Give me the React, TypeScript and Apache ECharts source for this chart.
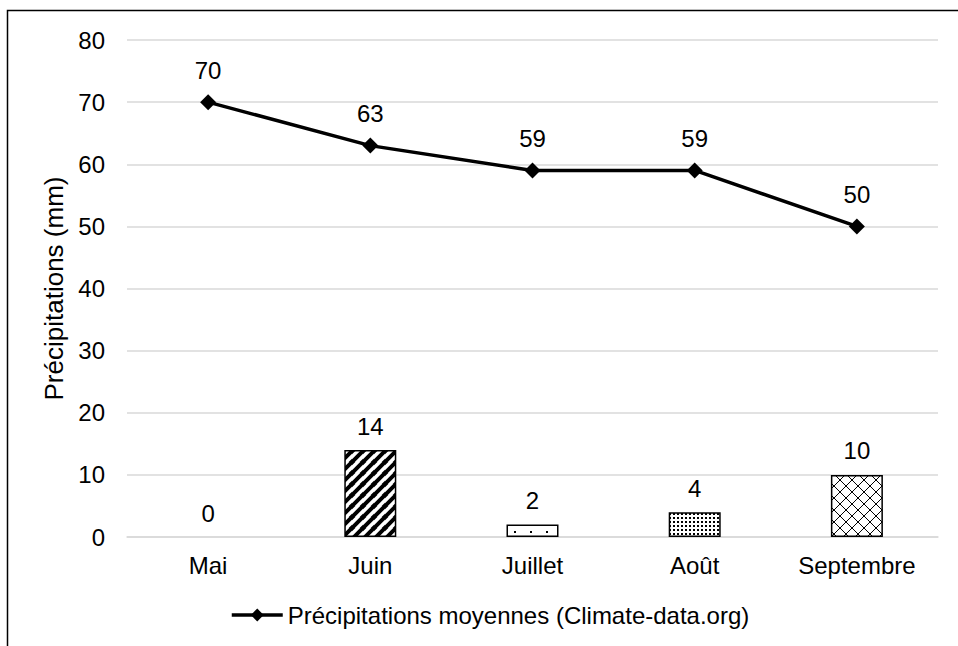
import React, { useEffect, useRef } from "react";
import * as echarts from "echarts";

const categories = ["Mai", "Juin", "Juillet", "Août", "Septembre"];
const lineValues = [70, 63, 59, 59, 50];
const barValues = [0, 14, 2, 4, 10];
const yTicks = { min: 0, max: 80, interval: 10 };
const lineName = "Précipitations moyennes (Climate-data.org)";
const barName = "Précipitations observées";
const yName = "Précipitations (mm)";

function makeCanvas(size: number, draw: (ctx: CanvasRenderingContext2D) => void) {
  const c = document.createElement("canvas");
  c.width = size;
  c.height = size;
  const ctx = c.getContext("2d")!;
  ctx.fillStyle = "#ffffff";
  ctx.fillRect(0, 0, size, size);
  ctx.fillStyle = "#000000";
  ctx.strokeStyle = "#000000";
  draw(ctx);
  return c;
}

function patterns() {
  const stripes = makeCanvas(11, (ctx) => {
    ctx.lineWidth = 4;
    ctx.beginPath();
    ctx.moveTo(-5, 16);
    ctx.lineTo(16, -5);
    ctx.moveTo(-5, 5.5);
    ctx.lineTo(5.5, -5);
    ctx.moveTo(5.5, 16);
    ctx.lineTo(16, 5.5);
    ctx.stroke();
  });
  const sparse = makeCanvas(16, (ctx) => {
    ctx.fillRect(2, 3, 2, 2);
    ctx.fillRect(10, 11, 2, 2);
  });
  const dense = makeCanvas(4, (ctx) => {
    ctx.fillRect(1, 1, 2, 2);
  });
  const cross = makeCanvas(12, (ctx) => {
    ctx.lineWidth = 1;
    ctx.beginPath();
    ctx.moveTo(0, 0);
    ctx.lineTo(12, 12);
    ctx.moveTo(12, 0);
    ctx.lineTo(0, 12);
    ctx.stroke();
  });
  return [null, stripes, sparse, dense, cross];
}

export default function App() {
  const ref = useRef<HTMLDivElement>(null);
  useEffect(() => {
    if (!ref.current) return;
    const chart = echarts.init(ref.current, undefined, { renderer: "svg" });
    const pats = patterns();
    const font = "Liberation Sans, Arial, sans-serif";
    const fs = 24;
    chart.setOption({
      animation: false,
      backgroundColor: "#ffffff",
      textStyle: { fontFamily: font },
      grid: { left: 127, right: 20, top: 40, bottom: 109, containLabel: false },
      legend: {
        data: [lineName],
        top: 598,
        left: 225,
        itemWidth: 51,
        itemHeight: 16,
        itemGap: 6,
        lineStyle: { width: 3.5 },
        textStyle: { fontSize: fs, color: "#000", fontFamily: font },
      },
      graphic: [
        {
          type: "rect",
          shape: { x: 7.5, y: 10.5, width: 1000, height: 700 },
          style: { fill: "none", stroke: "#000", lineWidth: 1.5 },
          silent: true,
        },
      ],
      xAxis: {
        type: "category",
        data: categories,
        axisLine: { lineStyle: { color: "#d9d9d9", width: 1.5 } },
        axisTick: { show: false },
        axisLabel: { fontSize: fs, color: "#000", margin: 16, fontFamily: font },
      },
      yAxis: {
        type: "value",
        min: yTicks.min,
        max: yTicks.max,
        interval: yTicks.interval,
        name: yName,
        nameLocation: "middle",
        nameGap: 58,
        nameTextStyle: { fontSize: 26, color: "#000", fontFamily: font },
        axisLine: { show: false },
        axisTick: { show: false },
        axisLabel: { fontSize: fs, color: "#000", margin: 22, fontFamily: font },
        splitLine: { lineStyle: { color: "#d9d9d9", width: 1.5 } },
      },
      series: [
        {
          name: barName,
          type: "bar",
          barWidth: 52,
          data: barValues.map((v, i) => ({
            value: v,
            itemStyle: {
              color: pats[i] ? { image: pats[i], repeat: "repeat" } : "#ffffff",
              borderColor: "#000",
              borderWidth: v === 0 ? 0 : 1.5,
            },
          })),
          label: {
            show: true,
            position: "top",
            distance: 12,
            fontSize: fs,
            color: "#000",
            fontFamily: font,
          },
          z: 2,
        },
        {
          name: lineName,
          type: "line",
          data: lineValues,
          symbol: "diamond",
          symbolSize: 16,
          itemStyle: { color: "#000" },
          lineStyle: { color: "#000", width: 3.5 },
          label: {
            show: true,
            position: "top",
            distance: 12,
            fontSize: fs,
            color: "#000",
            fontFamily: font,
          },
          z: 3,
        },
      ],
    });
    return () => chart.dispose();
  }, []);
  return (
    <div
      ref={ref}
      style={{ position: "fixed", left: 0, top: 0, width: 958, height: 646 }}
    />
  );
}
